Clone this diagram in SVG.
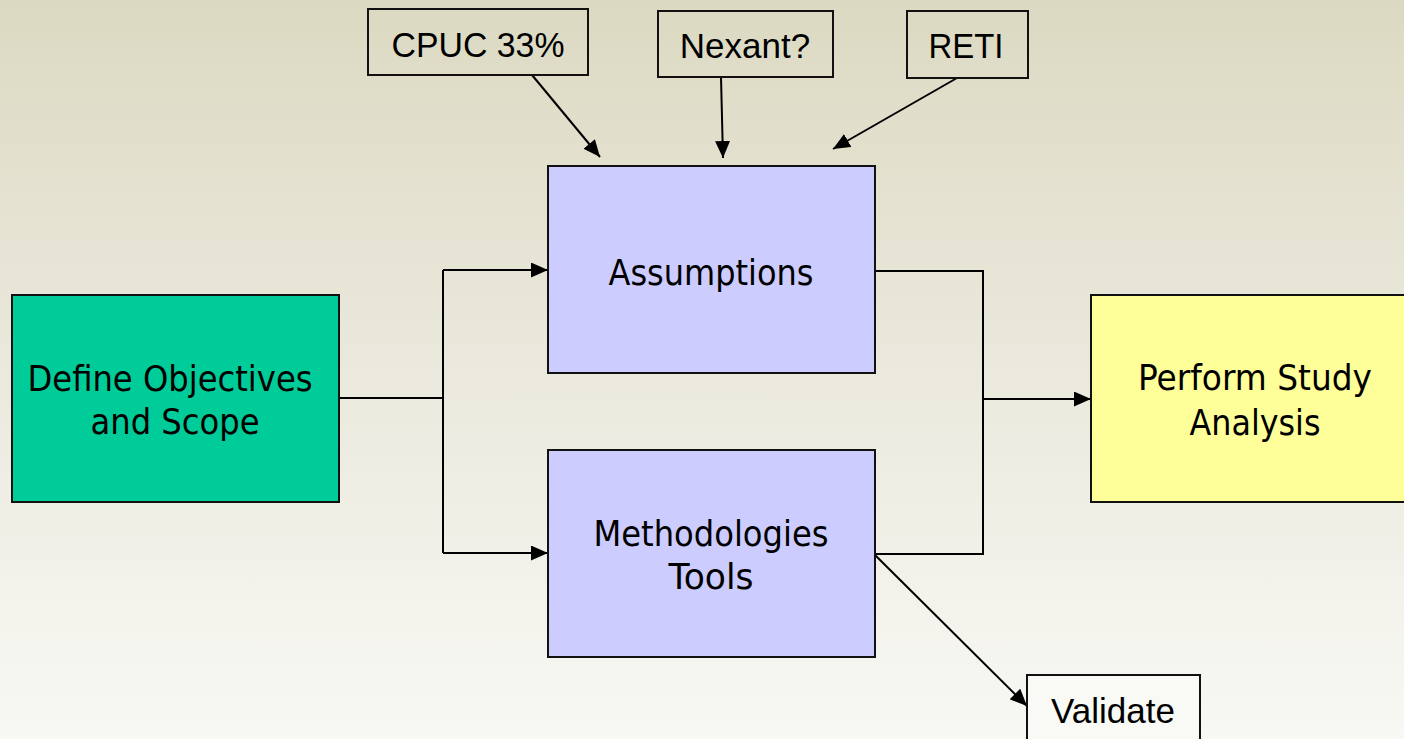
<svg xmlns="http://www.w3.org/2000/svg" width="1404" height="739" viewBox="0 0 1404 739">
<defs>
<linearGradient id="bg" x1="0" y1="0" x2="0" y2="1">
<stop offset="0" stop-color="#dcd9c2"/>
<stop offset="0.5" stop-color="#ebe9dd"/>
<stop offset="1" stop-color="#f8f8f4"/>
</linearGradient>
<marker id="arr" markerUnits="userSpaceOnUse" markerWidth="17" markerHeight="15" refX="17" refY="7.5" orient="auto">
<path d="M0,0 L17,7.5 L0,15 Z" fill="#000"/>
</marker>
</defs>
<style>
.box{stroke:#111;stroke-width:2}
.main{font-family:"DejaVu Sans",sans-serif;font-size:35px;fill:#000;text-anchor:middle}
.small{font-family:"Liberation Sans",Arial,sans-serif;font-size:35px;fill:#000;text-anchor:middle}
.conn{fill:none;stroke:#000;stroke-width:2}
</style>
<rect width="1404" height="739" fill="url(#bg)"/>

<g id="connectors">
<polyline class="conn" points="339,398 443,398"/>
<polyline class="conn" points="443,270 443,553"/>
<line class="conn" x1="443" y1="270" x2="548" y2="270" marker-end="url(#arr)"/>
<line class="conn" x1="443" y1="553" x2="548" y2="553" marker-end="url(#arr)"/>
<polyline class="conn" points="875,271 983,271 983,554 875,554"/>
<line class="conn" x1="983" y1="399" x2="1091" y2="399" marker-end="url(#arr)"/>
<line class="conn" x1="532" y1="75" x2="600" y2="157" marker-end="url(#arr)"/>
<line class="conn" x1="721" y1="77" x2="723" y2="158" marker-end="url(#arr)"/>
<line class="conn" x1="957" y1="78" x2="833" y2="149" marker-end="url(#arr)"/>
<line class="conn" x1="875" y1="555" x2="1027" y2="706" marker-end="url(#arr)"/>
</g>

<g id="define">
<rect class="box" x="12" y="295" width="327" height="207" fill="#00cc99"/>
<text class="main" x="170" y="391" textLength="285" lengthAdjust="spacingAndGlyphs">Define Objectives</text>
<text class="main" x="175" y="434" textLength="169" lengthAdjust="spacingAndGlyphs">and Scope</text>
</g>

<g id="assumptions">
<rect class="box" x="548" y="166" width="327" height="207" fill="#ccccff"/>
<text class="main" x="711" y="285" textLength="205" lengthAdjust="spacingAndGlyphs">Assumptions</text>
</g>

<g id="methodologies">
<rect class="box" x="548" y="450" width="327" height="207" fill="#ccccff"/>
<text class="main" x="711" y="546" textLength="235" lengthAdjust="spacingAndGlyphs">Methodologies</text>
<text class="main" x="711" y="589" textLength="85" lengthAdjust="spacingAndGlyphs">Tools</text>
</g>

<g id="perform">
<rect class="box" x="1091" y="295" width="330" height="207" fill="#ffff99"/>
<text class="main" x="1255" y="390" textLength="234" lengthAdjust="spacingAndGlyphs">Perform Study</text>
<text class="main" x="1255" y="435" textLength="131" lengthAdjust="spacingAndGlyphs">Analysis</text>
</g>

<g id="cpuc">
<rect class="box" x="368" y="9" width="220" height="66" fill="none"/>
<text class="small" x="478" y="57" textLength="173" lengthAdjust="spacingAndGlyphs">CPUC 33%</text>
</g>

<g id="nexant">
<rect class="box" x="658" y="11" width="175" height="66" fill="none"/>
<text class="small" x="745" y="58">Nexant?</text>
</g>

<g id="reti">
<rect class="box" x="907" y="11" width="121" height="67" fill="none"/>
<text class="small" x="966" y="58" textLength="75" lengthAdjust="spacingAndGlyphs">RETI</text>
</g>

<g id="validate">
<rect class="box" x="1027" y="675" width="173" height="80" fill="#f9f9f6"/>
<text class="small" x="1113" y="723">Validate</text>
</g>
</svg>
